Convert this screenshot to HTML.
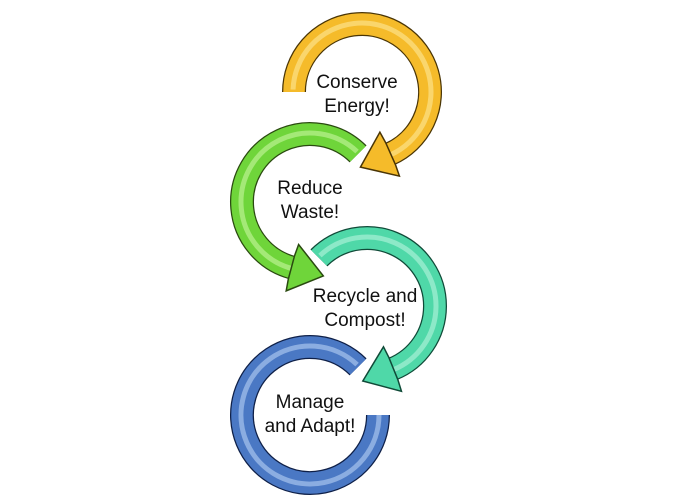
<!DOCTYPE html>
<html><head><style>
html,body{margin:0;padding:0;background:#fff;}
svg{display:block}
text{font-family:"Liberation Sans",sans-serif;font-size:19px;fill:#111;text-anchor:middle}
</style></head><body>
<svg id="s" width="673" height="496" viewBox="0 0 673 496" xmlns="http://www.w3.org/2000/svg"></svg>
<script>
var s=document.getElementById('s'),NS='http://www.w3.org/2000/svg';
function el(t,a){var e=document.createElementNS(NS,t);for(var k in a)e.setAttribute(k,a[k]);s.appendChild(e);return e;}
function pt(cx,cy,r,a){a=a*Math.PI/180;return [cx+r*Math.cos(a),cy+r*Math.sin(a)];}
function arcPath(cx,cy,r,a0,a1){
  var d='',n=Math.ceil(Math.abs(a1-a0)/90),p=pt(cx,cy,r,a0);d='M'+p[0]+' '+p[1];
  var sw=a1>a0?1:0;
  for(var i=1;i<=n;i++){var a=a0+(a1-a0)*i/n;p=pt(cx,cy,r,a);d+=' A'+r+' '+r+' 0 0 '+sw+' '+p[0]+' '+p[1];}
  return d;}
function ring(cx,cy,a0,a1,col,light,dark,head){
  var r=68,d=arcPath(cx,cy,r,a0,a1);
  el('path',{d:d,fill:'none',stroke:dark,'stroke-width':24});
  el('path',{d:d,fill:'none',stroke:col,'stroke-width':21.5});
  el('path',{d:arcPath(cx,cy,r+1,a0+(a1>a0?2:-2),a1),fill:'none',stroke:light,'stroke-width':5,opacity:0.6});
  if(head){
    var a=a1*Math.PI/180,sg=a1>a0?1:-1;
    var dx=-Math.sin(a)*sg,dy=Math.cos(a)*sg;
    var b=pt(cx,cy,r,a1),nx=Math.cos(a),ny=Math.sin(a);
    var tip=[b[0]+dx*32,b[1]+dy*32];
    var b0=[b[0]-dx*1,b[1]-dy*1];
    var P=[[b0[0]+nx*12,b0[1]+ny*12],[b[0]+nx*24,b[1]+ny*24],tip,[b[0]-nx*24,b[1]-ny*24],[b0[0]-nx*12,b0[1]-ny*12]];
    el('polygon',{points:P.map(function(q){return q.join(',')}).join(' '),fill:col,stroke:dark,'stroke-width':1.5});
  }
}
ring(310,202,-45,-255,'#6fd53a','#c8f7a0','#2a4a10',true);
ring(362,92,180,426,'#f5bb2a','#fde79a','#4a3505',true);
ring(310,415,-45,-360,'#4a78c4','#b8d0f5','#0f2048',false);
ring(367,306,-135,68,'#4fd8a8','#b8f5dd','#104a38',true);
function t(x,y,str){var e=el('text',{x:x,y:y});e.textContent=str;}
t(357,88,'Conserve');t(357,112,'Energy!');
t(310,194,'Reduce');t(310,218,'Waste!');
t(365,302,'Recycle and');t(365,326,'Compost!');
t(310,408,'Manage');t(310,432,'and Adapt!');
</script>
</body></html>
